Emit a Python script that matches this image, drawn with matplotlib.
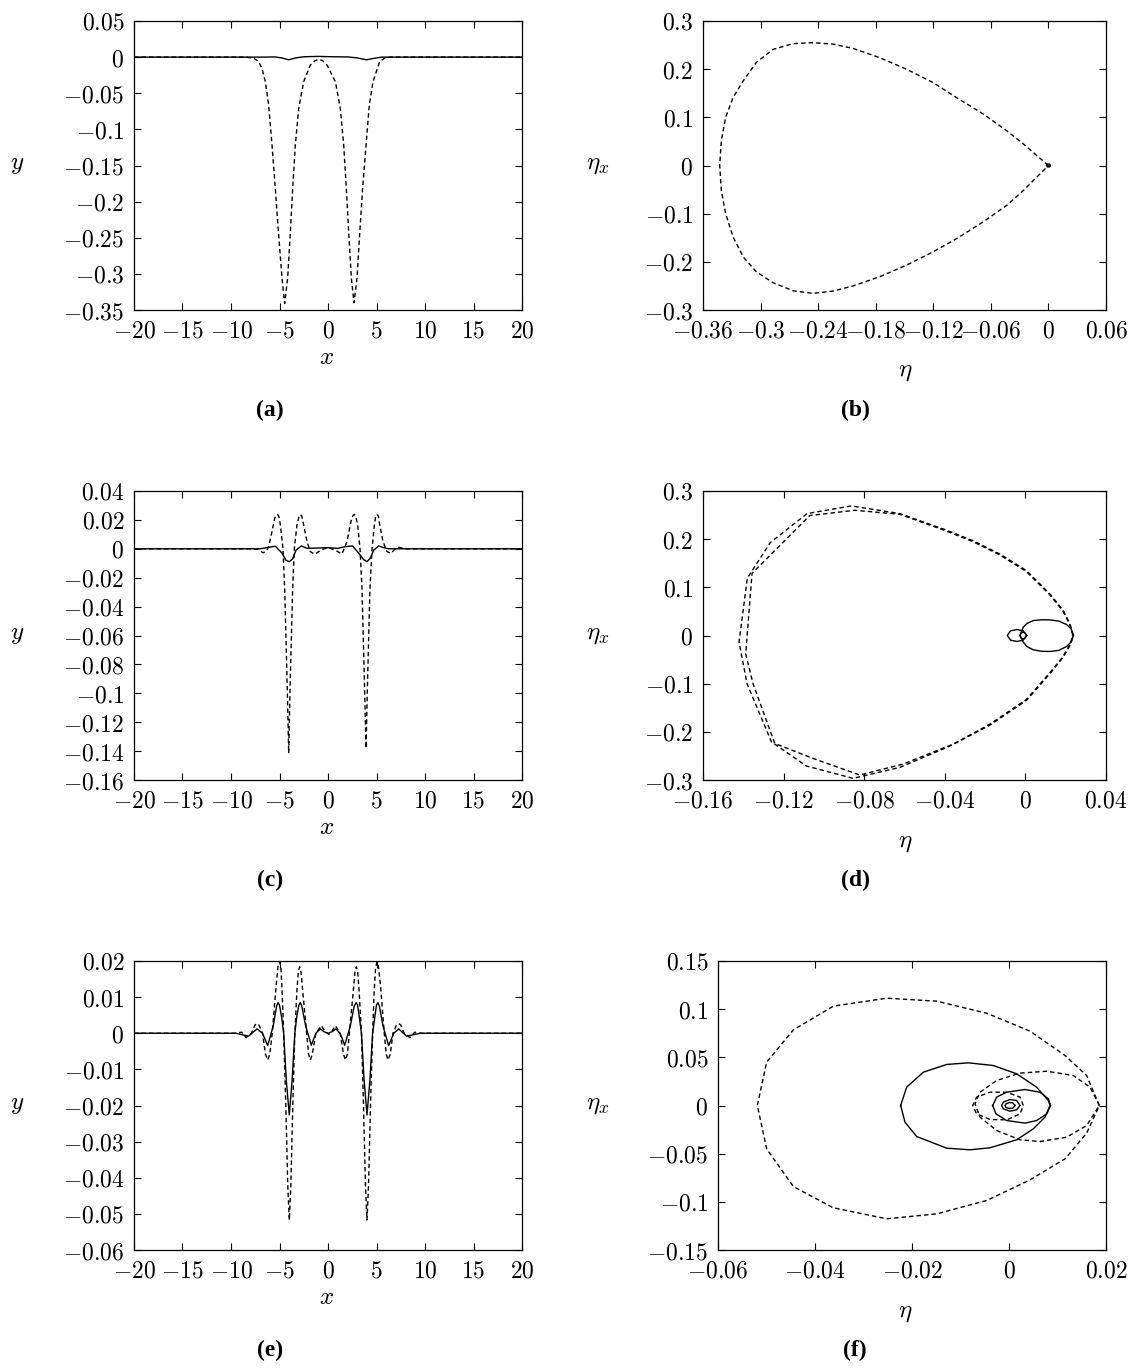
import numpy as np
import matplotlib.pyplot as plt

plt.rcParams["mathtext.fontset"] = "cm"
plt.rcParams["font.family"] = "DejaVu Serif"

# ---- panel (a): profiles ----
a_dash_x = [-20, -8.4, -7.6, -7.15, -6.8, -6.46, -6.12, -5.77, -5.43, -5.09, -4.74, -4.47, -4.16, -3.88,
            -3.64, -3.37, -3.02, -2.51, -1.82, -1.35, -0.96, -0.55, -0.10, 0.76, 1.27, 1.62, 1.89, 2.13,
            2.41, 2.68, 2.99, 3.26, 3.57, 3.92, 4.26, 4.64, 5.33, 5.9, 6.43, 20]
a_dash_y = [0, 0, -0.002, -0.006, -0.016, -0.034, -0.066, -0.122, -0.182, -0.246, -0.306, -0.341, -0.306,
            -0.242, -0.182, -0.122, -0.071, -0.034, -0.011, -0.005, -0.003, -0.005, -0.011, -0.034,
            -0.071, -0.122, -0.182, -0.242, -0.306, -0.340, -0.306, -0.246, -0.182, -0.122, -0.066,
            -0.034, -0.006, -0.001, 0, 0]
a_sol_x = [-20, -6.5, -5.5, -4.8, -4.05, -3.3, -2.5, -1.0, 0.5, 2.0, 3.0, 3.5, 4.0, 4.6, 5.5, 6.5, 20]
a_sol_y = [0, 0, 0.0003, -0.001, -0.0037, -0.001, 0.0005, 0.001, 0.0005, 0.0003, -0.001, -0.0025,
           -0.0037, -0.002, 0, 0, 0]

# ---- panel (b): phase plane ----
b_dash_x = [0, -0.0262, -0.0436, -0.068, -0.0958, -0.120, -0.148, -0.176, -0.2035, -0.2244, -0.2453,
            -0.2662, -0.287, -0.3044, -0.318, -0.3287, -0.3364, -0.3409, -0.3426, -0.3409, -0.3364,
            -0.3287, -0.318, -0.3044, -0.287, -0.2662, -0.2453, -0.2244, -0.2035, -0.176, -0.148,
            -0.120, -0.0958, -0.068, -0.0436, -0.0262, 0]
b_dash_y = [0, 0.0448, 0.0724, 0.107, 0.141, 0.172, 0.2, 0.224, 0.243, 0.252, 0.255, 0.253, 0.241,
            0.214, 0.176, 0.141, 0.1, 0.0517, 0, -0.0517, -0.1, -0.148, -0.19, -0.2207, -0.2434, -0.26,
            -0.2655, -0.2607, -0.25, -0.231, -0.207, -0.179, -0.152, -0.117, -0.083, -0.052, 0]
b_sol_x = [0.002, 0.001, -0.001, -0.002, -0.001, 0.001, 0.002]
b_sol_y = [0, 0.003, 0.003, 0, -0.003, -0.003, 0]

# ---- panel (c) ----
c_dash_x = [-20, -8.0, -7.2, -6.67, -6.3, -6.12, -5.77, -5.5, -5.35, -5.19, -5.05, -4.91, -4.64, -4.47,
            -4.33, -4.19, -4.05, -3.92, -3.78, -3.64, -3.47, -3.2, -3.0, -2.85, -2.7, -2.51, -2.16, -1.82,
            -1.37, -0.62, 0.0, 0.76, 1.44, 1.96, 2.37, 2.56, 2.71, 2.86, 3.06, 3.30, 3.50, 3.64, 3.78,
            3.92, 4.05, 4.19, 4.33, 4.54, 4.78, 4.92, 5.05, 5.2, 5.33, 5.67, 6.08, 6.5, 6.94, 7.3, 8.0, 20]
c_dash_y = [0, 0, -0.0005, -0.0028, -0.001, 0.0015, 0.012, 0.021, 0.0232, 0.0238, 0.022, 0.0165, 0,
            -0.027, -0.062, -0.099, -0.1415, -0.099, -0.062, -0.027, 0, 0.0165, 0.022, 0.0238, 0.0225,
            0.0165, 0.005, -0.002, -0.0038, -0.0005, 0.0008, -0.001, -0.0036, 0.005, 0.019, 0.0228,
            0.0238, 0.0225, 0.0165, 0, -0.027, -0.062, -0.099, -0.138, -0.099, -0.062, -0.027, 0, 0.0165,
            0.0225, 0.0238, 0.0225, 0.0165, 0.005, -0.002, -0.003, 0, 0.001, 0, 0]
c_sol_x = [-20, -7.0, -6.3, -5.43, -4.74, -4.33, -3.99, -3.64, -3.3, -2.75, -2.16, -1.2, 0.0, 1.0, 1.79,
           2.54, 3.16, 3.68, 4.02, 4.36, 4.71, 5.22, 5.74, 6.25, 7.0, 20]
c_sol_y = [0, 0, 0.0008, 0.0018, -0.003, -0.008, -0.0089, -0.007, -0.001, 0.002, 0.0003, 0.0005, 0.0008,
           0.0003, 0.0015, 0.002, -0.003, -0.0075, -0.0089, -0.0065, -0.001, 0.002, 0.0008, 0, 0, 0]

# ---- panel (d) ----
d_dash1_x = [0.0238, 0.02212, 0.0188, 0.01218, 0.00059, -0.01265, -0.0259, -0.03914, -0.06232, -0.08633,
             -0.10835, -0.12656, -0.13798, -0.14212, -0.13815, -0.12606, -0.10868, -0.0855, -0.06232,
             -0.03749, -0.01762, 0.00059, 0.01218, 0.0188, 0.02212, 0.0238]
d_dash1_y = [0, 0.0241, 0.0517, 0.0862, 0.1345, 0.169, 0.1966, 0.2186, 0.2531, 0.269, 0.2531, 0.1931,
             0.1193, -0.0138, -0.1, -0.2207, -0.271, -0.2966, -0.2738, -0.2297, -0.1862, -0.1345, -0.0793,
             -0.0448, -0.0207, 0]
d_dash2_x = [0.0236, 0.0219, 0.0186, 0.0120, 0.0004, -0.0128, -0.0261, -0.0393, -0.06232, -0.08467,
             -0.10702, -0.13566, -0.13881, -0.13517, -0.1244, -0.10537, -0.08219, -0.06066, -0.03583,
             -0.01762, 0.0004, 0.0120, 0.0186, 0.0219, 0.0236]
d_dash2_y = [0, 0.0234, 0.0508, 0.0850, 0.1330, 0.1675, 0.1950, 0.2170, 0.2517, 0.26, 0.249, 0.129,
             -0.0379, -0.1, -0.2241, -0.2552, -0.2897, -0.2669, -0.2255, -0.1841, -0.1331, -0.0780,
             -0.0440, -0.0200, 0]
d_sol1_x = [0.0238, 0.0228, 0.02046, 0.0165, 0.01218, 0.0080, 0.0039, 0.0008, -0.00106, -0.00272,
            -0.00106, 0.0008, 0.0039, 0.0080, 0.01218, 0.0165, 0.02046, 0.0228, 0.0238]
d_sol1_y = [0, 0.013, 0.0228, 0.0300, 0.0324, 0.0326, 0.031, 0.025, 0.0172, 0, -0.0138, -0.0230, -0.0297,
            -0.0328, -0.0331, -0.031, -0.0228, -0.013, 0]
d_sol2_x = [0.00059, -0.00106, -0.00421, -0.00735, -0.00901, -0.00735, -0.00421, -0.00106, 0.00059]
d_sol2_y = [0, 0.0097, 0.0124, 0.0097, 0, -0.0097, -0.0124, -0.0097, 0]
d_sol3_x = [0.00059, -0.00007, -0.00106, -0.00222, -0.00272, -0.00222, -0.00106, -0.00007, 0.00059]
d_sol3_y = [0, 0.0048, 0.0069, 0.0048, 0, -0.0048, -0.0069, -0.0048, 0]

# ---- panel (e) ----
e_dash_x = [-20, -9.5, -8.9, -8.45, -7.9, -7.55, -7.32, -7.1, -6.75, -6.45, -6.22, -6.0, -5.75, -5.35,
            -5.15, -4.98, -4.85, -4.72, -4.57, -4.35, -4.15, -3.99, -3.83, -3.63, -3.42, -3.2, -3.05,
            -2.92, -2.78, -2.55, -2.2, -2.0, -1.82, -1.62, -1.25, -0.69, -0.3, 0.07, 0.4, 0.76, 1.25,
            1.6, 1.79, 2.0, 2.2, 2.55, 2.78, 2.92, 3.05, 3.2, 3.45, 3.66, 3.86, 4.02, 4.18, 4.38, 4.6,
            4.75, 4.9, 5.05, 5.2, 5.42, 5.8, 6.0, 6.19, 6.42, 6.7, 7.05, 7.29, 7.52, 7.85, 8.45, 8.95, 9.5,
            20]
e_dash_y = [0, 0, 0.0003, -0.0012, 0, 0.0022, 0.0027, 0.0022, 0, -0.0058, -0.0074, -0.0058, 0, 0.013,
            0.0185, 0.0198, 0.018, 0.011, 0, -0.02, -0.042, -0.0517, -0.042, -0.02, 0, 0.012, 0.0172,
            0.0184, 0.017, 0.01, 0, -0.0058, -0.0074, -0.0058, 0, 0.0021, 0.0005, -0.0003, 0.0005, 0.0021,
            0, -0.0058, -0.0074, -0.0058, 0, 0.01, 0.017, 0.0184, 0.0172, 0.012, 0, -0.02, -0.042,
            -0.0517, -0.042, -0.02, 0, 0.011, 0.018, 0.0198, 0.0185, 0.013, 0, -0.0058, -0.0074, -0.0058,
            0, 0.0022, 0.0027, 0.0022, 0, -0.0012, 0.0003, 0, 0]
e_sol_x = [-20, -9.5, -8.2, -7.32, -6.75, -6.22, -5.65, -5.3, -5.15, -5.0, -4.75, -4.57, -4.3, -3.99,
           -3.7, -3.42, -3.2, -3.0, -2.85, -2.7, -2.3, -1.72, -1.25, -0.79, -0.4, 0, 0.4, 0.82, 1.25, 1.72,
           2.3, 2.7, 2.89, 3.05, 3.2, 3.45, 3.72, 4.02, 4.32, 4.6, 4.8, 5.0, 5.15, 5.3, 5.67, 6.25, 6.78,
           7.29, 8.1, 9.5, 20]
e_sol_y = [0, 0, -0.0008, 0.0012, 0, -0.0034, 0.002, 0.0075, 0.0085, 0.0078, 0.004, 0, -0.013, -0.0226,
           -0.013, 0, 0.005, 0.0078, 0.0085, 0.0075, 0.002, -0.0033, 0, 0.0012, 0.0004, 0, 0.0004, 0.0012,
           0, -0.0033, 0.002, 0.0075, 0.0085, 0.0078, 0.005, 0, -0.013, -0.0226, -0.013, 0, 0.004,
           0.0078, 0.0085, 0.0075, 0.002, -0.0034, 0, 0.0012, -0.0008, 0, 0]

# ---- panel (f) ----
f_dash1_x = [0.01863, 0.01601, 0.01155, 0.00433, -0.0046, -0.01491, -0.02522, -0.03622, -0.04447,
             -0.04997, -0.05189, -0.04997, -0.04447, -0.03622, -0.02522, -0.01491, -0.0046, 0.00433,
             0.01155, 0.01601, 0.01863]
f_dash1_y = [0, 0.0311, 0.0519, 0.0772, 0.0958, 0.1083, 0.1114, 0.1031, 0.0785, 0.045, 0, -0.045,
             -0.0841, -0.1062, -0.1176, -0.1125, -0.0986, -0.0772, -0.0554, -0.0287, 0]
f_dash2_x = [0.01863, 0.0167, 0.01327, 0.00777, 0.00227, -0.00254, -0.00598, -0.00701, -0.00598,
             -0.00254, 0.00227, 0.00639, 0.01189, 0.01601, 0.01863]
f_dash2_y = [0, 0.019, 0.0311, 0.0356, 0.0336, 0.026, 0.0138, 0.0017, -0.0121, -0.026, -0.0356, -0.0374,
             -0.0329, -0.0208, 0]
f_dash3_x = [0.00296, 0.00227, -0.00048, -0.00392, -0.00667, -0.00749, -0.00667, -0.00392, -0.00048,
             0.00227, 0.00296]
f_dash3_y = [0, 0.0087, 0.0138, 0.0138, 0.0087, 0, -0.0087, -0.0145, -0.0149, -0.0087, 0]
f_sol1_x = [-0.02234, -0.0211, -0.01766, -0.01285, -0.00839, -0.00323, 0.00158, 0.0057, 0.00811, 0.00845,
            0.00742, 0.00502, 0.00158, -0.00392, -0.00804, -0.01285, -0.01904, -0.02144, -0.02234]
f_sol1_y = [0, 0.019, 0.0346, 0.0426, 0.0443, 0.0415, 0.0329, 0.019, 0.0052, 0, -0.0121, -0.0242,
            -0.0356, -0.0439, -0.046, -0.0443, -0.0322, -0.0173, 0]
f_sol2_x = [-0.00337, -0.00254, -0.00048, 0.0033, 0.00639, 0.00811, 0.00859, 0.00777, 0.0057, 0.0033,
            -0.00048, -0.00268, -0.00337]
f_sol2_y = [0, 0.0087, 0.0138, 0.0166, 0.0138, 0.0069, 0, -0.0087, -0.0156, -0.0183, -0.0156, -0.0087, 0]
f_sol3_x = [0.00227, 0.00158, 0.0002, -0.00117, -0.00151, -0.00117, 0.0002, 0.00158, 0.00227]
f_sol3_y = [0, 0.0052, 0.0062, 0.0035, 0, -0.0035, -0.0059, -0.0045, 0]
f_sol4_x = [0.00124, 0.00076, 0.00007, -0.00062, -0.00082, -0.00062, 0.00007, 0.00076, 0.00124]
f_sol4_y = [0, 0.0028, 0.0031, 0.0017, 0, -0.0021, -0.0031, -0.0028, 0]

# ---- ticks ----
x_prof_ticks = [-20, -15, -10, -5, 0, 5, 10, 15, 20]
a_yticks = [0.05, 0, -0.05, -0.1, -0.15, -0.2, -0.25, -0.3, -0.35]
b_xticks = [-0.36, -0.3, -0.24, -0.18, -0.12, -0.06, 0, 0.06]
bd_yticks = [0.3, 0.2, 0.1, 0, -0.1, -0.2, -0.3]
c_yticks = [0.04, 0.02, 0, -0.02, -0.04, -0.06, -0.08, -0.1, -0.12, -0.14, -0.16]
d_xticks = [-0.16, -0.12, -0.08, -0.04, 0, 0.04]
e_yticks = [0.02, 0.01, 0, -0.01, -0.02, -0.03, -0.04, -0.05, -0.06]
f_xticks = [-0.06, -0.04, -0.02, 0, 0.02]
f_yticks = [0.15, 0.1, 0.05, 0, -0.05, -0.1, -0.15]

W, H = 1134, 1370
fig = plt.figure(figsize=(W / 100, H / 100), dpi=100)
FS = 17
DASH = (0, (3.2, 2.2))


def fmt(v):
    return "$" + f"{v:g}" + "$"


def box(rect):
    l, t, r, b = rect
    ax = fig.add_axes([l / W, 1 - b / H, (r - l) / W, (b - t) / H])
    ax.tick_params(direction="in", length=5, width=0.8, top=True, right=True, labelsize=FS, pad=7)
    for s in ax.spines.values():
        s.set_linewidth(0.9)
    return ax


def setticks(ax, xt, yt):
    ax.set_xticks(xt)
    ax.set_xticklabels([fmt(v) for v in xt])
    ax.set_yticks(yt)
    ax.set_yticklabels([fmt(v) for v in yt])
    ax.set_xlim(min(xt), max(xt))
    ax.set_ylim(min(yt), max(yt))


def flabel(x, y, s, **kw):
    fig.text(x / W, 1 - y / H, s, ha="center", va="center", **kw)


rows = [21, 491, 961]
lw = 1.0

# (a)
ax = box((134, 21, 522, 310))
ax.plot(a_dash_x, a_dash_y, color="k", lw=lw, linestyle=DASH)
ax.plot(a_sol_x, a_sol_y, color="k", lw=lw)
setticks(ax, x_prof_ticks, a_yticks)

# (b)
ax = box((703, 21, 1106, 310))
ax.plot(b_dash_x, b_dash_y, color="k", lw=lw, linestyle=DASH)
ax.plot(b_sol_x, b_sol_y, color="k", lw=lw)
setticks(ax, b_xticks, bd_yticks)

# (c)
ax = box((134, 491, 522, 780))
ax.plot(c_dash_x, c_dash_y, color="k", lw=lw, linestyle=DASH)
ax.plot(c_sol_x, c_sol_y, color="k", lw=lw)
setticks(ax, x_prof_ticks, c_yticks)

# (d)
ax = box((703, 491, 1106, 780))
ax.plot(d_dash1_x, d_dash1_y, color="k", lw=lw, linestyle=DASH)
ax.plot(d_dash2_x, d_dash2_y, color="k", lw=lw, linestyle=DASH)
ax.plot(d_sol1_x, d_sol1_y, color="k", lw=lw)
ax.plot(d_sol2_x, d_sol2_y, color="k", lw=lw)
ax.plot(d_sol3_x, d_sol3_y, color="k", lw=lw)
setticks(ax, d_xticks, bd_yticks)

# (e)
ax = box((134, 961, 522, 1250))
ax.plot(e_dash_x, e_dash_y, color="k", lw=lw, linestyle=DASH)
ax.plot(e_sol_x, e_sol_y, color="k", lw=lw)
setticks(ax, x_prof_ticks, e_yticks)

# (f)
ax = box((718, 961, 1106, 1250))
ax.plot(f_dash1_x, f_dash1_y, color="k", lw=lw, linestyle=DASH)
ax.plot(f_dash2_x, f_dash2_y, color="k", lw=lw, linestyle=DASH)
ax.plot(f_dash3_x, f_dash3_y, color="k", lw=lw, linestyle=DASH)
ax.plot(f_sol1_x, f_sol1_y, color="k", lw=lw)
ax.plot(f_sol2_x, f_sol2_y, color="k", lw=lw)
ax.plot(f_sol3_x, f_sol3_y, color="k", lw=lw)
ax.plot(f_sol4_x, f_sol4_y, color="k", lw=lw)
setticks(ax, f_xticks, f_yticks)

# axis labels and captions
for top, cap_l, cap_r in zip(rows, ["(a)", "(c)", "(e)"], ["(b)", "(d)", "(f)"]):
    bot = top + 289
    flabel(17, top + 144, "$y$", fontsize=FS + 1)
    flabel(327, bot + 48, "$x$", fontsize=FS + 1)
    flabel(598, top + 144, r"$\eta_x$", fontsize=FS + 1)
    flabel(905, bot + 62, r"$\eta$", fontsize=FS + 1)
    flabel(270, bot + 100, cap_l, fontsize=FS, fontweight="bold", family="Liberation Serif")
    flabel(855, bot + 100, cap_r, fontsize=FS, fontweight="bold", family="Liberation Serif")

fig.savefig("out.png", dpi=100)
